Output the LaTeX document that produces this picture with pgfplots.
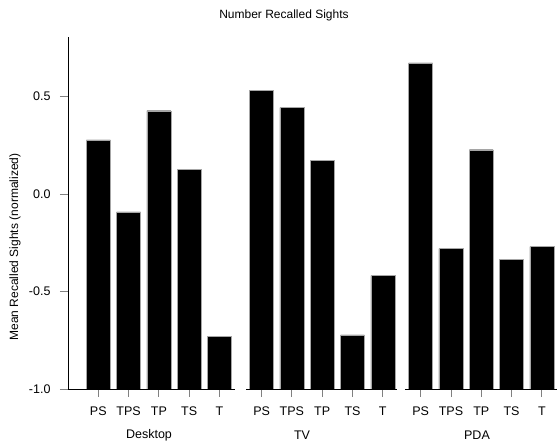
\documentclass[border=0pt]{standalone}
\usepackage{pgfplots}
\pgfplotsset{compat=1.18}
\usepackage{fontspec}
\setmainfont{Liberation Sans}
\begin{document}
\begin{tikzpicture}[font=\fontsize{12}{14}\selectfont]
\useasboundingbox (0,0) rectangle (557pt,443pt);
\begin{axis}[
  at={(68pt,54pt)}, anchor=south west, scale only axis,
  width=489pt, height=352pt,
  xmin=0, xmax=16.14, ymin=-1, ymax=0.805,
  y coord trafo/.code={\pgfmathparse{#1+1}},
  y coord inv trafo/.code={\pgfmathparse{#1-1}},
  axis y line=left, axis x line=bottom,
  x axis line style={draw=none},
  y axis line style={-, black, line width=0.8pt},
  clip=false,
  ybar, bar width=0.79, bar shift=0pt,
  xtick={1,2,3,4,5,6.39,7.39,8.39,9.39,10.39,11.64,12.64,13.64,14.64,15.64},
  xticklabels={PS,TPS,TP,TS,T,PS,TPS,TP,TS,T,PS,TPS,TP,TS,T},
  ytick={-1,-0.5,0,0.5},
  yticklabel style={xshift=-6pt, font=\fontsize{12.5}{14}\selectfont, /pgf/number format/fixed, /pgf/number format/fixed zerofill, /pgf/number format/precision=1, /pgf/number format/assume math mode=true},
  xticklabel style={yshift=-6pt, font=\fontsize{12.5}{14}\selectfont},
  tick style={gray, line width=0.8pt},
  tick align=outside, major tick length=8pt,
  xtick pos=bottom, ytick pos=left,
]
\addplot[fill=black, draw=gray!70, line width=0.4pt] coordinates {
  (1,0.277) (2,-0.092) (3,0.427) (4,0.128) (5,-0.730)
  (6.39,0.531) (7.39,0.443) (8.39,0.171) (9.39,-0.723) (10.39,-0.419)
  (11.64,0.672) (12.64,-0.280) (13.64,0.227) (14.64,-0.337) (15.64,-0.270)
};
\draw[black, line width=0.8pt] (axis cs:0,-1) -- (axis cs:5.5,-1);
\draw[black, line width=0.8pt] (axis cs:5.89,-1) -- (axis cs:10.85,-1);
\draw[black, line width=0.8pt] (axis cs:11.12,-1) -- (axis cs:16.14,-1);
\end{axis}
\node at (284pt,428pt) {Number Recalled Sights};
\node[rotate=90] at (15pt,196pt) {Mean Recalled Sights (normalized)};
\node[font=\fontsize{12.5}{14}\selectfont] at (149pt,8pt) {Desktop};
\node[font=\fontsize{12.5}{14}\selectfont] at (302pt,8pt) {TV};
\node[font=\fontsize{12.5}{14}\selectfont] at (477pt,8pt) {PDA};
\end{tikzpicture}
\end{document}
